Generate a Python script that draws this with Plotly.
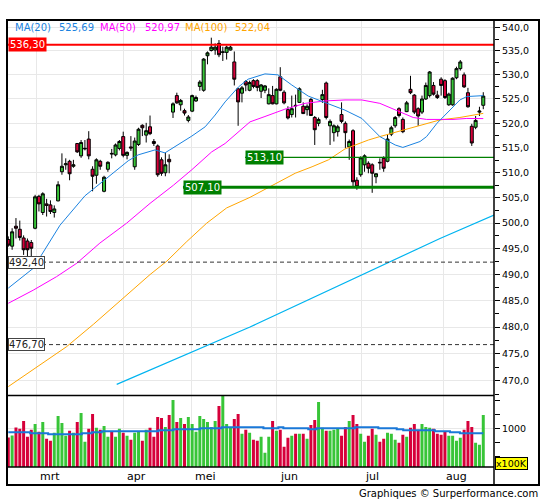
import numpy as np
import plotly.graph_objects as go

# daily candles, oldest first (price, x100K volume)
opens = [496.8, 495.5, 499.4, 498.8, 497.1, 496.5, 496.2, 499.0, 505.3, 502.1,
         503.8, 503.6, 502.1, 504.4, 510.2, 511.6, 512.3, 511.3, 515.9, 513.4,
         514.8, 516.8, 510.7, 509.5, 512.3, 506.3, 510.7, 513.9, 513.6, 514.9,
         517.3, 513.5, 515.2, 511.2, 515.7, 519.6, 517.6, 519.3, 516.3, 515.4,
         512.6, 510.0, 512.7, 522.3, 525.7, 523.8, 522.6, 520.6, 522.5, 524.6,
         527.6, 526.8, 534.0, 535.1, 535.2, 536.6, 534.7, 534.7, 535.2, 532.7,
         527.1, 526.2, 528.6, 526.8, 528.8, 528.8, 526.6, 526.8, 524.0, 525.7,
         524.0, 529.6, 526.4, 522.8, 521.8, 523.7, 524.3, 523.5, 522.8, 524.9,
         521.2, 520.0, 524.9, 528.3, 519.5, 518.1, 518.3, 521.8, 520.0, 515.2,
         518.5, 508.5, 509.6, 511.6, 511.9, 511.6, 509.2, 512.1, 512.9, 512.3,
         517.8, 519.5, 523.0, 520.8, 522.4, 527.0, 525.8, 523.0, 522.3, 525.0,
         525.7, 527.8, 525.8, 529.1, 528.8, 523.8, 523.8, 529.4, 531.3, 530.0,
         526.3, 519.4, 519.2, 522.3, 523.7]
highs = [497.4, 499.0, 501.0, 500.5, 497.6, 497.0, 496.7, 505.6, 505.6, 506.1,
         504.8, 504.5, 503.5, 508.3, 513.9, 512.9, 512.6, 512.6, 516.0, 516.6,
         516.6, 518.4, 511.3, 512.9, 512.6, 509.4, 512.3, 514.8, 515.9, 516.6,
         518.3, 514.3, 517.4, 517.1, 519.1, 519.8, 520.1, 521.6, 516.8, 515.7,
         513.1, 514.0, 513.7, 524.3, 526.3, 525.0, 523.0, 521.7, 525.9, 525.7,
         528.9, 533.5, 534.9, 537.8, 536.6, 537.3, 535.9, 536.1, 536.1, 534.9,
         527.3, 527.7, 528.9, 528.8, 529.1, 529.1, 528.1, 527.9, 527.2, 527.7,
         527.2, 531.6, 526.8, 523.5, 525.7, 525.9, 527.4, 524.3, 523.9, 525.2,
         521.5, 521.2, 526.9, 528.6, 520.8, 519.8, 519.7, 524.3, 520.4, 516.7,
         518.8, 509.1, 513.3, 513.7, 512.3, 511.9, 509.9, 512.9, 513.3, 517.8,
         519.5, 521.5, 523.3, 521.2, 524.6, 529.8, 526.0, 523.3, 525.7, 528.4,
         530.8, 528.5, 526.7, 529.5, 529.1, 526.3, 529.5, 531.7, 533.1, 530.5,
         527.3, 519.9, 521.5, 523.4, 526.4]
lows = [495.4, 494.8, 497.0, 496.6, 493.8, 493.5, 493.5, 498.8, 502.3, 501.6,
        501.3, 501.8, 501.1, 504.3, 509.6, 510.6, 508.5, 511.0, 514.0, 513.0,
        514.5, 512.7, 506.3, 507.8, 510.6, 506.1, 510.2, 512.9, 513.3, 514.5,
        513.1, 512.7, 514.4, 510.6, 515.4, 517.4, 516.1, 517.6, 515.4, 509.2,
        509.4, 509.3, 509.9, 521.1, 524.0, 522.6, 521.6, 520.2, 522.3, 524.4,
        526.7, 526.5, 532.2, 534.9, 534.2, 533.7, 532.9, 533.2, 535.1, 527.8,
        519.5, 524.3, 526.6, 526.6, 527.2, 526.6, 525.2, 526.2, 523.9, 523.9,
        523.9, 526.6, 523.9, 520.8, 521.2, 521.2, 524.2, 521.9, 521.6, 521.5,
        515.6, 519.4, 524.2, 520.8, 515.6, 516.3, 517.3, 520.0, 515.0, 512.6,
        507.2, 506.6, 509.2, 510.2, 509.9, 506.0, 507.9, 510.6, 510.2, 512.1,
        517.4, 519.1, 521.2, 518.0, 522.3, 526.0, 521.9, 519.5, 521.9, 524.8,
        525.3, 525.7, 525.0, 525.7, 525.0, 523.6, 523.6, 529.1, 530.9, 527.3,
        523.2, 515.4, 518.8, 521.5, 522.9]
closes = [495.7, 498.3, 499.0, 497.2, 494.8, 494.8, 495.1, 505.2, 503.8, 505.8,
          503.5, 502.3, 502.8, 507.6, 511.3, 511.8, 509.8, 511.6, 514.2, 516.1,
          514.9, 513.4, 509.3, 512.6, 511.3, 509.1, 512.1, 513.8, 515.6, 516.3,
          513.5, 514.1, 515.0, 516.4, 518.8, 519.1, 518.5, 517.9, 515.9, 509.6,
          509.9, 511.6, 512.2, 524.0, 524.2, 524.7, 522.1, 521.3, 525.7, 525.3,
          528.5, 533.3, 534.6, 535.8, 535.8, 534.2, 534.8, 535.8, 535.8, 529.1,
          524.4, 527.3, 527.9, 528.4, 527.6, 527.4, 527.9, 527.7, 525.9, 524.0,
          527.0, 526.8, 524.2, 521.1, 523.0, 523.6, 527.1, 522.0, 523.5, 521.6,
          518.7, 520.8, 525.9, 521.2, 520.4, 519.5, 519.3, 520.4, 518.1, 516.3,
          508.2, 507.2, 513.0, 513.4, 510.9, 509.9, 509.8, 512.0, 510.9, 516.8,
          519.1, 521.2, 521.6, 518.3, 524.2, 526.3, 522.3, 521.5, 525.0, 527.8,
          530.6, 526.0, 525.3, 527.8, 525.3, 526.0, 529.3, 531.3, 532.7, 527.5,
          523.4, 516.0, 520.6, 522.5, 525.6]
volumes = [835, 871, 1015, 991, 1135, 847, 973, 1081, 937, 1117,
           811, 775, 919, 1225, 1099, 865, 955, 919, 1117, 1279,
           757, 991, 1261, 1009, 973, 1045, 847, 943, 847, 991,
           919, 865, 793, 919, 937, 775, 973, 1009, 847, 1207,
           1189, 1027, 1243, 1513, 1117, 1189, 1081, 1207, 1081, 937,
           1225, 1171, 1117, 1027, 1135, 1405, 1600, 1081, 1027, 1171,
           1261, 901, 973, 919, 793, 775, 847, 559, 847, 1135,
           955, 973, 667, 829, 865, 901, 901, 901, 811, 1063,
           1153, 1477, 1009, 955, 955, 973, 991, 865, 1027, 1135,
           1243, 1081, 901, 757, 865, 991, 883, 757, 811, 919,
           901, 793, 739, 883, 847, 1009, 1081, 973, 1081, 1027,
           1009, 991, 901, 883, 937, 865, 865, 775, 829, 973,
           1135, 1027, 739, 703, 1243]

# moving averages read at sparse candle positions
ma20_idx = [0, 6.5, 13.5, 20.0, 25.2, 31.3, 33.9, 38.3, 40.9, 44.3, 47.9, 51.4,
            54.0, 56.6, 60.1, 62.6, 67.0, 70.4, 74.0, 78.3, 82.7, 87.9, 92.3,
            97.0, 101.0, 103.0, 107.5, 109.2, 111.9, 114.5, 117.9, 119.7, 124]
ma20_val = [487.4, 491.2, 499.6, 505.4, 508.6, 512.4, 513.6, 514.6, 514.0, 515.6,
            517.4, 519.3, 521.7, 524.4, 527.5, 529.1, 530.2, 530.0, 527.9, 525.6,
            524.3, 522.7, 521.0, 517.3, 515.6, 515.1, 516.3, 517.3, 520.0, 522.1,
            524.8, 525.5, 525.69]
ma50_idx = [0, 6.5, 12.6, 17.9, 23.9, 30.9, 37.0, 43.1, 47.9, 53.1, 56.6, 60.1,
            63.1, 67.0, 72.2, 77.5, 82.7, 87.9, 92.3, 97.0, 101.4, 105.7, 109.2,
            116.1, 119.7, 124]
ma50_val = [484.5, 487.0, 489.6, 492.2, 496.1, 500.0, 503.9, 507.5, 510.6, 514.2,
            515.9, 518.2, 520.3, 521.4, 522.9, 524.1, 524.6, 524.8, 524.8, 524.1,
            522.7, 521.2, 520.8, 520.8, 521.0, 520.97]
ma100_idx = [0, 6.5, 15.2, 22.2, 30.0, 37.0, 41.4, 46.6, 51.8, 57.0, 63.1, 70.5,
             74.9, 79.3, 83.6, 87.9, 94.0, 97.0, 105.7, 112.7, 117.9, 124]
ma100_val = [468.9, 472.0, 476.3, 480.5, 485.5, 490.0, 492.6, 496.4, 500.0, 503.0,
             505.1, 508.2, 509.9, 511.2, 512.6, 514.8, 516.6, 517.3, 519.2, 520.7,
             521.2, 522.04]
trend_idx = [28.3, 63.1, 112.7, 126.8]
trend_val = [469.3, 480.0, 497.0, 501.6]
vavg_idx = [0, 5.7, 10.4, 19.2, 21.8, 24.4, 39.2, 43.1, 50.1, 55.7, 66.6, 70.5,
            71.8, 78.3, 80.5, 90.5, 96.6, 101.4, 103.1, 111.4, 115.3, 117.9, 124]
vavg_val = [931, 913, 895, 913, 931, 949, 967, 985, 1003, 1021, 1003, 1021,
            1003, 985, 1003, 1021, 1003, 985, 967, 949, 931, 913, 913]

month_names = ["mrt", "apr", "mei", "jun", "jul", "aug"]
month_start = [7.4, 30.2, 47.9, 70.1, 92.3, 113.5]

resistance = 536.30
supports = [513.10, 507.10]
support_from = [61.8, 45.6]
dashed_levels = [492.40, 476.70]

price_ticks = list(range(470, 545, 5))
vol_ticks = [500, 750, 1000, 1250, 1500]

GREEN = "#38c538"
RED = "#d6003a"
FONT = "DejaVu Sans"

# pixel frame of the chart (545x500 page)
W, H = 545, 500
L, R, T, B = 7, 494, 20, 467
SEP = 395.5
X_LO, X_HI = -0.34, 126.8


def px(x):
    return (x - L) / (R - L)


def py(y):
    return (B - y) / (B - T)


def fmt(v, d):
    return f"{v:.{d}f}".replace(".", ",")


idx = list(range(len(closes)))
vol_colors = [GREEN if c >= o else RED for o, c in zip(opens, closes)]

fig = go.Figure()

fig.add_trace(go.Candlestick(
    x=idx, open=opens, high=highs, low=lows, close=closes,
    increasing=dict(fillcolor=GREEN, line=dict(color="black", width=1)),
    decreasing=dict(fillcolor=RED, line=dict(color="black", width=1)),
    whiskerwidth=0, xaxis="x", yaxis="y"))

fig.add_trace(go.Scatter(x=trend_idx, y=trend_val, mode="lines",
                         line=dict(color="#00b4f0", width=1.2)))
fig.add_trace(go.Scatter(x=ma100_idx, y=ma100_val, mode="lines",
                         line=dict(color="#ffa500", width=1)))
fig.add_trace(go.Scatter(x=ma50_idx, y=ma50_val, mode="lines",
                         line=dict(color="#ff00ff", width=1)))
fig.add_trace(go.Scatter(x=ma20_idx, y=ma20_val, mode="lines",
                         line=dict(color="#1a82e0", width=1)))

fig.add_trace(go.Scatter(x=[X_LO, X_HI], y=[resistance] * 2, mode="lines",
                         line=dict(color="#ff0000", width=2)))
for lvl, start, w in zip(supports, support_from, [1.3, 3]):
    fig.add_trace(go.Scatter(x=[start, X_HI], y=[lvl] * 2, mode="lines",
                             line=dict(color="#008000", width=w)))
for lvl in dashed_levels:
    fig.add_trace(go.Scatter(x=[X_LO, X_HI], y=[lvl] * 2, mode="lines",
                             line=dict(color="#333333", width=1, dash="4px,3px")))

fig.add_trace(go.Bar(x=idx, y=volumes, marker=dict(color=vol_colors, line_width=0),
                     xaxis="x2", yaxis="y2"))
fig.add_trace(go.Scatter(x=vavg_idx, y=vavg_val, mode="lines", line_shape="hv",
                         line=dict(color="#1a78d8", width=2), xaxis="x2", yaxis="y2"))

grid = "#e8e8e8"
xcommon = dict(range=[X_LO, X_HI], tickvals=month_start, showticklabels=False,
               ticks="", showgrid=True, gridcolor=grid, zeroline=False,
               showline=False, fixedrange=True)

annotations = []
legend = [("MA(20)", 13, "#1a82e0"), (fmt(ma20_val[-1], 2), 57, "#1a82e0"),
          ("MA(50)", 98, "#ff00ff"), (fmt(ma50_val[-1], 2), 142.5, "#ff00ff"),
          ("MA(100)", 183, "#ffa500"), (fmt(ma100_val[-1], 2), 233, "#ffa500")]
for text, xp, col in legend:
    annotations.append(dict(text=text, xref="paper", yref="paper", x=px(xp), y=py(27),
                            xanchor="left", yanchor="middle", showarrow=False,
                            font=dict(size=10, color=col, family=FONT)))

annotations.append(dict(text=fmt(resistance, 2), xref="paper", yref="y", x=px(7.5),
                        y=np.log10(resistance), xanchor="left", yanchor="middle",
                        showarrow=False, bgcolor="#ff0000", borderpad=1,
                        font=dict(size=10, color="white", family=FONT)))
for lvl, start in zip(supports, support_from):
    annotations.append(dict(text=fmt(lvl, 2), xref="x", yref="y", x=start,
                            y=np.log10(lvl), xanchor="left", yanchor="middle",
                            showarrow=False, bgcolor="#008000", borderpad=1,
                            font=dict(size=10, color="white", family=FONT)))
for lvl in dashed_levels:
    annotations.append(dict(text=fmt(lvl, 2), xref="paper", yref="y", x=px(7.5),
                            y=np.log10(lvl), xanchor="left", yanchor="middle",
                            showarrow=False, bgcolor="white", bordercolor="#444444",
                            borderwidth=1, borderpad=0,
                            font=dict(size=10, color="#222222", family=FONT)))

for name, pos in zip(month_names, month_start):
    annotations.append(dict(text=name, xref="x2", yref="paper", x=pos, xshift=1,
                            y=py(476), xanchor="left", yanchor="middle", showarrow=False,
                            font=dict(size=11, color="black", family=FONT)))

annotations.append(dict(text="x100K", xref="paper", yref="paper", x=px(511.5), y=py(463.5),
                        xanchor="center", yanchor="middle", showarrow=False,
                        bgcolor="#ffff00", bordercolor="black", borderwidth=1, borderpad=0,
                        font=dict(size=9.5, color="black", family=FONT)))
annotations.append(dict(text="Graphiques © Surperformance.com", xref="paper", yref="paper",
                        x=px(540), y=py(493), xanchor="right", yanchor="middle",
                        showarrow=False, font=dict(size=10, color="black", family=FONT)))

frame = dict(color="black", width=1.5)
shapes = [
    dict(type="rect", xref="paper", yref="paper", x0=0, x1=px(539), y0=py(485), y1=1,
         line=dict(color="black", width=2)),
    dict(type="line", xref="paper", yref="paper", x0=1, x1=1, y0=py(485), y1=1, line=frame),
    dict(type="line", xref="paper", yref="paper", x0=0, x1=1, y0=py(SEP), y1=py(SEP), line=frame),
    dict(type="line", xref="paper", yref="paper", x0=0, x1=1, y0=0, y1=0, line=frame),
]

fig.update_layout(
    width=W, height=H,
    margin=dict(l=L, r=W - R, t=T, b=H - B, pad=0),
    paper_bgcolor="white", plot_bgcolor="white",
    showlegend=False, hovermode=False,
    font=dict(family=FONT, size=10, color="black"),
    separators=",.",
    boxgap=0.22, boxgroupgap=0, bargap=0.22,
    xaxis=dict(xcommon, domain=[0, 1], anchor="y", rangeslider=dict(visible=False)),
    xaxis2=dict(xcommon, domain=[0, 1], anchor="y2", matches="x"),
    yaxis=dict(type="log", domain=[py(SEP), 1], anchor="x", side="right",
               range=[np.log10(467.26), np.log10(541.55)],
               tickvals=price_ticks, ticktext=[fmt(v, 1) for v in price_ticks],
               ticks="outside", ticklen=5, tickcolor="black", tickwidth=1,
               tickfont=dict(size=9.5, family=FONT, color="black"),
               showgrid=True, gridcolor=grid, zeroline=False, showline=False,
               minor=dict(tickvals=[v + 2.5 for v in price_ticks] + [467.5], ticks="outside",
                          ticklen=4, tickcolor="black", showgrid=False),
               fixedrange=True),
    yaxis2=dict(domain=[0, py(SEP)], anchor="x2", side="right", range=[302, 1594],
                tickvals=[1000], ticktext=["1000"],
                ticks="outside", ticklen=5, tickcolor="black",
                tickfont=dict(size=9.5, family=FONT, color="black"),
                showgrid=True, gridcolor=grid, zeroline=False, showline=False,
                minor=dict(tickvals=[v for v in vol_ticks if v != 1000], ticks="outside",
                           ticklen=5, tickcolor="black", showgrid=False),
                fixedrange=True),
    annotations=annotations,
    shapes=shapes,
)

fig.write_html("out.html", config={"displayModeBar": False},
               post_script="document.body.style.margin='0px';")
